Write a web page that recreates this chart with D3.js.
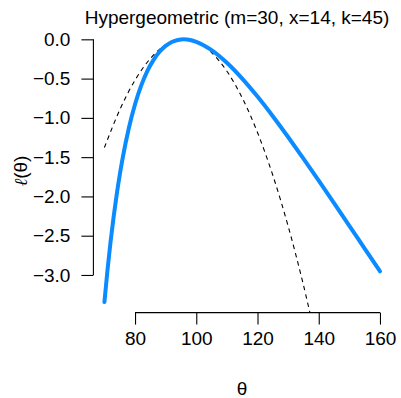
<!DOCTYPE html>
<html>
<head>
<meta charset="utf-8">
<script src="https://cdn.jsdelivr.net/npm/d3@7"></script>
<style>
  body { margin: 0; background: #fff; }
  svg { display: block; font-family: "Liberation Sans", Arial, sans-serif; }
</style>
</head>
<body>
<div id="chart"></div>
<script>
var width = 401;
var height = 398;

// relative log-likelihood
var theta = [70, 71, 72, 73, 74, 75, 76, 78, 80, 82, 84, 86, 88, 90, 92, 94, 95.93,
  98, 100, 105, 110, 115, 120, 125, 130, 135, 140, 145, 150, 155, 160];
var loglik = [-3.345, -2.939, -2.579, -2.261, -1.978, -1.727, -1.503, -1.125, -0.826,
  -0.590, -0.405, -0.264, -0.159, -0.084, -0.035, -0.008, 0,
  -0.008, -0.031, -0.137, -0.299, -0.500, -0.729, -0.979, -1.244, -1.518, -1.800,
  -2.086, -2.374, -2.664, -2.953];

// quadratic approximation (dashed)
var thetaQ = [70, 75, 80, 85, 90, 95.93, 100, 105, 110, 115, 120, 125, 130, 135, 140];
var quad = [-1.378, -0.898, -0.520, -0.245, -0.072, 0, -0.034, -0.169, -0.406,
  -0.745, -1.187, -1.731, -2.378, -3.128, -3.979];

var xTicks = [80, 100, 120, 140, 160];
var yTicks = [0, -0.5, -1, -1.5, -2, -2.5, -3];

var title = "Hypergeometric (m=30, x=14, k=45)";

var x = d3.scaleLinear().domain([66.4, 163.6]).range([93.4, 391]);
var y = d3.scaleLinear().domain([0.134, -3.479]).range([28.8, 312.6]);

var svg = d3.select("#chart").append("svg")
  .attr("width", width)
  .attr("height", height)

svg.append("defs").append("clipPath")
  .attr("id", "plotclip")
  .append("rect")
  .attr("x", x.range()[0])
  .attr("y", y.range()[0])
  .attr("width", x.range()[1] - x.range()[0])
  .attr("height", y.range()[1] - y.range()[0])

var plot = svg.append("g").attr("clip-path", "url(#plotclip)")

var line = d3.line()
  .x(function(d) { return x(d[0]) })
  .y(function(d) { return y(d[1]) })

plot.append("path")
  .datum(d3.zip(thetaQ, quad))
  .attr("d", line.curve(d3.curveCatmullRom))
  .attr("fill", "none")
  .attr("stroke", "#000")
  .attr("stroke-width", 1.1)
  .attr("stroke-dasharray", "4.5,4")

plot.append("path")
  .datum(d3.zip(theta, loglik))
  .attr("d", line.curve(d3.curveMonotoneX))
  .attr("fill", "none")
  .attr("stroke", "#0a8bff")
  .attr("stroke-width", 4)
  .attr("stroke-linecap", "round")

// axes, R style: line spans the tick range only
var xAxis = svg.append("g")
  .attr("transform", "translate(0," + y.range()[1] + ")")
  .call(d3.axisBottom(x).tickValues(xTicks).tickSize(12).tickPadding(7).tickFormat(d3.format("d")))
xAxis.select(".domain")
  .attr("d", "M" + x(xTicks[0]) + ",0H" + x(xTicks[xTicks.length - 1]))

var yAxis = svg.append("g")
  .attr("transform", "translate(" + x.range()[0] + ",0)")
  .call(d3.axisLeft(y).tickValues(yTicks).tickSize(12).tickPadding(11).tickFormat(d3.format(".1f")))
yAxis.select(".domain")
  .attr("d", "M0," + y(yTicks[0]) + "V" + y(yTicks[yTicks.length - 1]))

svg.selectAll(".tick text")
  .attr("font-size", "19px")
  .attr("font-family", "'Liberation Sans', Arial, sans-serif")
  .attr("fill", "#000")
svg.selectAll(".domain, .tick line")
  .attr("stroke", "#000")
  .attr("stroke-width", 1.1)

svg.append("text")
  .attr("x", 237)
  .attr("y", 24)
  .attr("text-anchor", "middle")
  .attr("font-size", "19px")
  .text(title)

svg.append("text")
  .attr("x", 242)
  .attr("y", 395)
  .attr("text-anchor", "middle")
  .attr("font-size", "19px")
  .text("θ")

var ylab = svg.append("text")
  .attr("transform", "translate(27,171) rotate(-90)")
  .attr("text-anchor", "middle")
  .attr("font-size", "19px")
ylab.append("tspan")
  .attr("font-family", "'DejaVu Serif', serif")
  .attr("font-style", "italic")
  .attr("font-size", "18px")
  .text("ℓ")
ylab.append("tspan").text("(θ)")
</script>
</body>
</html>
